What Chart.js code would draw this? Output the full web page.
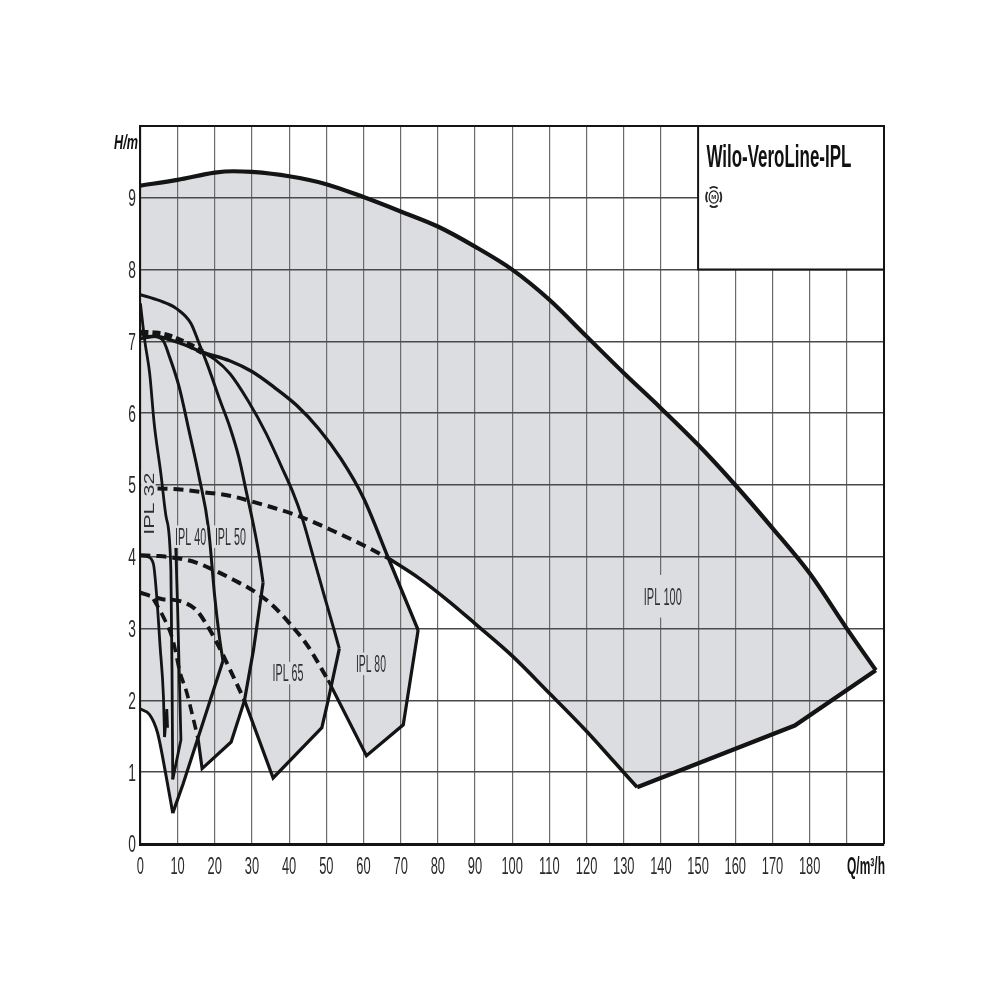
<!DOCTYPE html>
<html>
<head>
<meta charset="utf-8">
<title>Wilo-VeroLine-IPL</title>
<script src="https://cdn.jsdelivr.net/npm/chart.js@4.4.1/dist/chart.umd.min.js"></script>
<style>
  html, body { margin: 0; padding: 0; background: #fff; }
</style>
</head>
<body>
<canvas id="pumpChart" width="1000" height="1000"></canvas>
<script>
// axis tick labels
const qTickLabels = ['0', '10', '20', '30', '40', '50', '60', '70', '80', '90',
  '100', '110', '120', '130', '140', '150', '160', '170', '180'];
const hTickLabels = ['0', '1', '2', '3', '4', '5', '6', '7', '8', '9'];

// IPL 100: max curve, min curve (dashed part, then solid part) and right/bottom edge
const ipl100TopQ = [0, 10, 20, 25, 30, 40, 50, 60, 70, 80, 90, 100, 110, 120, 130, 140, 150, 160, 170, 180, 190, 197.8];
const ipl100TopH = [9.17, 9.25, 9.35, 9.37, 9.36, 9.30, 9.19, 9.01, 8.81, 8.60, 8.32, 8.0, 7.58, 7.07, 6.56, 6.07, 5.56, 5.0, 4.40, 3.77, 3.0, 2.42];
const ipl100MinQ = [4.6, 10, 17, 24, 30, 36, 43, 51, 60, 66.7];
const ipl100MinH = [4.95, 4.94, 4.90, 4.85, 4.77, 4.68, 4.56, 4.38, 4.16, 3.98];
const ipl100LowQ = [66.7, 75, 83.2, 90, 100, 110, 120, 127, 133.6];
const ipl100LowH = [3.98, 3.70, 3.37, 3.07, 2.62, 2.10, 1.57, 1.17, 0.79];
const ipl100EdgeQ = [133.6, 176, 197.8];
const ipl100EdgeH = [0.79, 1.65, 2.42];

// IPL 80
const ipl80TopQ = [0, 4.3, 8, 12, 16.7, 24, 30, 36, 42, 48, 54, 60, 66.7, 74.7];
const ipl80TopH = [7.04, 7.07, 7.02, 6.95, 6.85, 6.73, 6.58, 6.36, 6.11, 5.78, 5.36, 4.82, 3.98, 2.98];
const ipl80MinQ = [0, 5, 10, 15, 20, 25, 30, 35, 40, 45, 50.5];
const ipl80MinH = [4.02, 4.01, 3.98, 3.92, 3.81, 3.68, 3.54, 3.35, 3.08, 2.76, 2.28];
const ipl80EdgeQ = [50.5, 60.8, 70.7, 74.7];
const ipl80EdgeH = [2.28, 1.23, 1.66, 2.98];

// IPL 65
const ipl65TopQ = [16.7, 20, 24.1, 29, 33.8, 38, 41, 43.4, 46.5, 49.5, 52, 53.5];
const ipl65TopH = [6.85, 6.75, 6.55, 6.17, 5.72, 5.25, 4.90, 4.56, 4.0, 3.45, 3.0, 2.72];
const ipl65MinQ = [0, 3, 6, 9, 12, 15, 18, 21, 24, 28];
const ipl65MinH = [3.50, 3.45, 3.41, 3.40, 3.36, 3.26, 3.04, 2.76, 2.44, 2.0];
const ipl65EdgeQ = [28, 35.7, 48.8, 50.5, 53.5];
const ipl65EdgeH = [2.0, 0.92, 1.62, 2.0, 2.72];

// IPL 50
const ipl50TopQ = [0, 5, 9.6, 13.6, 15.8, 18, 21.4, 24.1, 26.5, 28.6, 30.5, 32, 33.0];
const ipl50TopH = [7.65, 7.57, 7.46, 7.25, 6.97, 6.68, 6.18, 5.80, 5.38, 4.88, 4.42, 4.0, 3.64];
const ipl50MinQ = [3.5, 6.2, 8.8, 10.6, 12.4, 14.2, 15.5];
const ipl50MinH = [3.41, 3.16, 2.83, 2.40, 2.12, 1.75, 1.47];
const ipl50EdgeQ = [15.5, 16.6, 24.4, 28, 30.4, 33.0];
const ipl50EdgeH = [1.47, 1.05, 1.42, 2.0, 2.70, 3.64];

// IPL 40
const ipl40TopQ = [0, 3, 6, 7.8, 10.4, 13.1, 15.8, 18.3, 20.0, 21.2, 22.2];
const ipl40TopH = [7.04, 7.07, 7.02, 6.79, 6.37, 5.75, 5.11, 4.40, 3.44, 2.90, 2.55];
const ipl40MinQ = [0, 2.5, 4.6, 6.9, 8.7];
const ipl40MinH = [1.88, 1.80, 1.55, 0.95, 0.43];
const ipl40EdgeQ = [8.7, 11.5, 22.2];
const ipl40EdgeH = [0.43, 0.84, 2.55];

// IPL 32
const ipl32TopQ = [0, 1.2, 2.5, 3.7, 5.5, 6.9, 8.2, 8.5, 8.7];
const ipl32TopH = [7.53, 7.0, 6.55, 5.86, 5.16, 4.56, 3.81, 2.4, 0.9];
const ipl32EdgeQ = [9.5, 10.0, 10.9, 8.7];
const ipl32EdgeH = [4.15, 3.3, 1.45, 0.9];
const ipl32MinQ = [0, 2, 3.5, 4.4, 5.3, 6.2, 6.5];
const ipl32MinH = [4.02, 4.0, 3.9, 3.44, 2.75, 2.05, 1.49];
const ipl32TipQ = [6.5, 7.1, 7.3];
const ipl32TipH = [1.49, 1.88, 1.62];

// upper dashed curve near H = 7
const upperDashQ = [0, 4, 7.8, 13.1, 16.7];
const upperDashH = [7.12, 7.11, 7.07, 6.95, 6.85];

const pumpLabels = ['IPL 32', 'IPL 40', 'IPL 50', 'IPL 65', 'IPL 80', 'IPL 100'];

// where the labels sit (in axis units) and how wide they are drawn
const labelSpots = [
  { q: 2.18, h: 4.74, w: 62, size: 15, rot: -Math.PI / 2 },
  { q: 13.5, h: 4.28, w: 31, size: 24 },
  { q: 24.2, h: 4.28, w: 31, size: 24 },
  { q: 39.7, h: 2.38, w: 31, size: 24 },
  { q: 62.0, h: 2.51, w: 30, size: 24 },
  { q: 140.5, h: 3.45, w: 38, size: 24, padY: 10 }
];

const FILL = '#dcdde0';
const INK = '#141414';
const TICK = '#2b2b2b';
const FAMILY = "'Liberation Sans', 'DejaVu Sans', sans-serif";

const pts = (qs, hs) => qs.map((q, i) => ({ x: q, y: hs[i] }));

// grey areas: upper boundary filled down to the next dataset (lower boundary)
function area(upper, lower) {
  return [
    { data: upper, fill: '+1', backgroundColor: FILL, borderColor: 'rgba(0,0,0,0)', borderWidth: 0, pointRadius: 0, tension: 0 },
    { data: lower, fill: false, borderColor: 'rgba(0,0,0,0)', borderWidth: 0, pointRadius: 0, tension: 0 }
  ];
}
function curve(data, width, dash) {
  return { data, fill: false, borderColor: INK, borderWidth: width, borderDash: dash || [],
    borderCapStyle: 'butt', pointRadius: 0, cubicInterpolationMode: 'monotone' };
}
function edge(data, width) {
  return { data, fill: false, borderColor: INK, borderWidth: width, borderJoinStyle: 'miter',
    pointRadius: 0, tension: 0 };
}

const datasets = [
  ...area(pts(ipl100TopQ, ipl100TopH), [
    { x: 0, y: ipl100MinH[0] },
    ...pts(ipl100MinQ, ipl100MinH),
    ...pts(ipl100LowQ, ipl100LowH).slice(1),
    ...pts(ipl100EdgeQ, ipl100EdgeH).slice(1)
  ]),
  ...area(pts(ipl80TopQ, ipl80TopH), [
    ...pts(ipl80MinQ, ipl80MinH),
    ...pts(ipl80EdgeQ, ipl80EdgeH).slice(1)
  ]),
  ...area([
    ...pts(ipl80TopQ, ipl80TopH).slice(0, 4),
    ...pts(ipl65TopQ, ipl65TopH)
  ], [
    ...pts(ipl65MinQ, ipl65MinH),
    ...pts(ipl65EdgeQ, ipl65EdgeH).slice(1)
  ]),
  ...area(pts(ipl50TopQ, ipl50TopH), [
    { x: 0, y: ipl65MinH[0] },
    ...pts(ipl50MinQ, ipl50MinH),
    ...pts(ipl50EdgeQ, ipl50EdgeH).slice(1)
  ]),
  ...area(pts(ipl40TopQ, ipl40TopH), [
    ...pts(ipl40MinQ, ipl40MinH),
    ...pts(ipl40EdgeQ, ipl40EdgeH).slice(1)
  ]),

  curve(pts(ipl100TopQ, ipl100TopH), 4.2),
  edge(pts(ipl100EdgeQ, ipl100EdgeH), 4.2),
  curve(pts(ipl100LowQ, ipl100LowH), 3.6),
  curve(pts(ipl100MinQ, ipl100MinH), 4, [10, 6]),

  curve(pts(ipl80TopQ, ipl80TopH), 3.4),
  curve(pts(ipl80MinQ, ipl80MinH), 4, [10, 6]),
  edge(pts(ipl80EdgeQ, ipl80EdgeH), 3.2),

  curve(pts(ipl65TopQ, ipl65TopH), 3),
  curve(pts(ipl65MinQ, ipl65MinH), 4, [10, 6]),
  edge(pts(ipl65EdgeQ, ipl65EdgeH), 3.2),

  curve(pts(ipl50TopQ, ipl50TopH), 3),
  curve(pts(ipl50MinQ, ipl50MinH), 3.6, [10, 6]),
  edge(pts(ipl50EdgeQ, ipl50EdgeH), 3.2),

  curve(pts(ipl40TopQ, ipl40TopH), 3),
  curve(pts(ipl40MinQ, ipl40MinH), 3),
  edge(pts(ipl40EdgeQ, ipl40EdgeH), 3.2),

  curve(pts(ipl32TopQ, ipl32TopH), 2.8),
  edge(pts(ipl32EdgeQ, ipl32EdgeH), 2.8),
  curve(pts(ipl32MinQ, ipl32MinH), 2.8),
  edge(pts(ipl32TipQ, ipl32TipH), 2.8),

  curve(pts(upperDashQ, upperDashH), 6, [8, 4])
];

// squeezes text horizontally to a given width
function fitText(ctx, text, px, py, w, font, align, rot, baseOff) {
  ctx.save();
  ctx.font = font;
  const natural = ctx.measureText(text).width;
  ctx.translate(px, py);
  if (rot) ctx.rotate(rot);
  ctx.scale(w / natural, 1);
  ctx.textAlign = align;
  ctx.textBaseline = 'alphabetic';
  ctx.fillText(text, 0, baseOff || 0);
  ctx.restore();
}
// condensed text with a fixed horizontal squeeze
function narrowText(ctx, text, px, py, sx, font, align) {
  ctx.save();
  ctx.font = font;
  ctx.translate(px, py);
  ctx.scale(sx, 1);
  ctx.textAlign = align;
  ctx.textBaseline = 'alphabetic';
  ctx.fillText(text, 0, 0);
  ctx.restore();
}

const decor = {
  id: 'decor',
  afterDraw(chart) {
    const { ctx, chartArea: a, scales: { x, y } } = chart;
    ctx.save();

    // tick labels, placed on the scale ticks
    ctx.fillStyle = TICK;
    x.ticks.forEach(t => {
      const label = qTickLabels[Math.round(t.value / 10)];
      if (label === undefined) return;
      narrowText(ctx, label, x.getPixelForValue(t.value), a.bottom + 29.5, 0.56, '23px ' + FAMILY, 'center');
    });
    y.ticks.forEach(t => {
      const label = hTickLabels[Math.round(t.value)];
      if (label === undefined) return;
      narrowText(ctx, label, a.left - 4.5, y.getPixelForValue(t.value) + 8.3, 0.6, '23px ' + FAMILY, 'right');
    });

    // pump labels on small grey patches
    pumpLabels.forEach((txt, i) => {
      const s = labelSpots[i];
      const cx = x.getPixelForValue(s.q);
      const cy = y.getPixelForValue(s.h);
      const cap = s.size * 0.69;
      const padY = s.padY || 0;
      ctx.fillStyle = FILL;
      if (s.rot) {
        ctx.fillRect(cx - cap / 2 - 2, cy - s.w / 2 - 2, cap + 4, s.w + 4);
      } else {
        ctx.fillRect(cx - s.w / 2 - 1, cy - cap / 2 - 3 - padY, s.w + 2, cap + 6 + 2 * padY);
      }
      ctx.fillStyle = '#303030';
      fitText(ctx, txt, cx, cy, s.w, s.size + 'px ' + FAMILY, 'center', s.rot || 0, cap / 2);
    });

    // legend box in the top right corner
    const bl = x.getPixelForValue(150);
    const bb = y.getPixelForValue(8);
    ctx.fillStyle = '#fff';
    ctx.fillRect(bl, a.top, a.right - bl, bb - a.top);
    ctx.strokeStyle = INK;
    ctx.lineWidth = 2;
    ctx.beginPath();
    ctx.moveTo(bl, a.top);
    ctx.lineTo(bl, bb);
    ctx.lineTo(a.right, bb);
    ctx.stroke();

    ctx.fillStyle = '#111';
    fitText(ctx, 'Wilo-VeroLine-IPL', bl + 8.3, a.top + 40.7, 145, 'bold 32px ' + FAMILY, 'left');

    // motor symbol
    const ix = bl + 15.6, iy = a.top + 71;
    ctx.strokeStyle = '#222';
    ctx.lineWidth = 1.8;
    [0, Math.PI / 2, Math.PI, Math.PI * 1.5].forEach(c => {
      ctx.beginPath();
      ctx.ellipse(ix, iy, 7.5, 10, 0, c - 0.55, c + 0.55);
      ctx.stroke();
    });
    ctx.lineWidth = 1.2;
    ctx.beginPath();
    ctx.ellipse(ix, iy, 4.6, 6.2, 0, 0, Math.PI * 2);
    ctx.stroke();
    ctx.fillStyle = '#222';
    ctx.font = 'bold 6px ' + FAMILY;
    ctx.textAlign = 'center';
    ctx.textBaseline = 'middle';
    ctx.fillText('M', ix, iy + 0.5);

    // top and right frame
    ctx.strokeStyle = INK;
    ctx.lineWidth = 2;
    ctx.beginPath();
    ctx.moveTo(a.left, a.top);
    ctx.lineTo(a.right, a.top);
    ctx.lineTo(a.right, a.bottom);
    ctx.stroke();

    // axis titles
    ctx.fillStyle = '#111';
    fitText(ctx, 'H/m', a.left - 2.4, a.top + 23.3, 24, 'bold italic 20px ' + FAMILY, 'right');
    fitText(ctx, 'Q/m³/h', a.right + 1, a.bottom + 30, 38, 'bold 23px ' + FAMILY, 'right');

    ctx.restore();
  }
};

const ctx = document.getElementById('pumpChart').getContext('2d');
const pumpChart = new Chart(ctx, {
  type: 'line',
  data: { datasets },
  options: {
    responsive: false,
    animation: false,
    devicePixelRatio: 1,
    layout: { padding: { left: 100, top: 126, right: 116, bottom: 116 } },
    elements: { point: { radius: 0 } },
    plugins: {
      legend: { display: false },
      tooltip: { enabled: false },
      filler: { drawTime: 'beforeDraw' }
    },
    scales: {
      x: {
        type: 'linear',
        min: 0,
        max: 200,
        afterFit: s => { s.height = 40; },
        ticks: { stepSize: 10, autoSkip: false, display: false },
        grid: { color: '#6b6b6b', lineWidth: 1.2, drawTicks: false },
        border: { color: INK, width: 3 }
      },
      y: {
        type: 'linear',
        min: 0,
        max: 10,
        afterFit: s => { s.width = 40.4; },
        ticks: { stepSize: 1, display: false },
        grid: { color: '#4a4a4a', lineWidth: 1.6, drawTicks: false },
        border: { color: INK, width: 2 }
      }
    }
  },
  plugins: [decor]
});
</script>
</body>
</html>
